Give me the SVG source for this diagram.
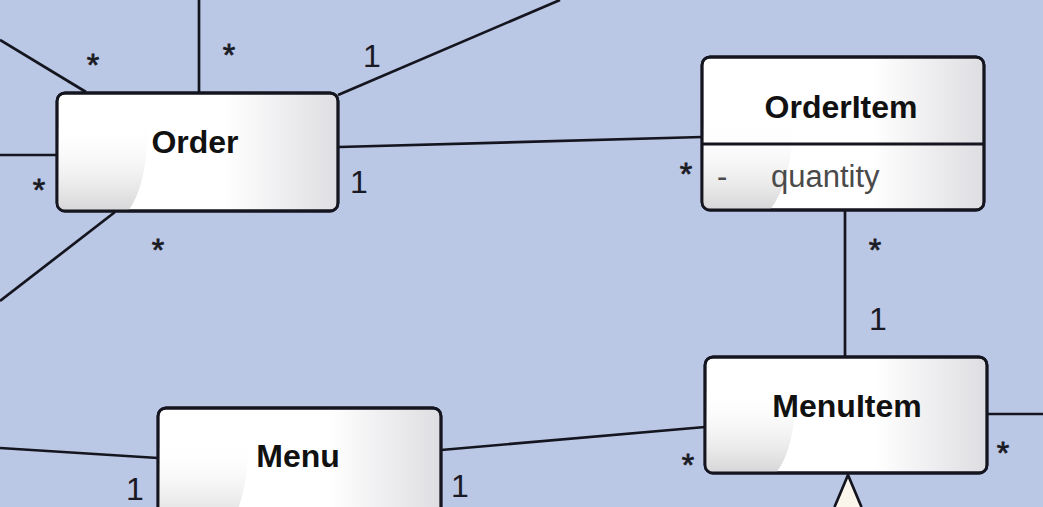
<svg xmlns="http://www.w3.org/2000/svg" width="1043" height="507" viewBox="0 0 1043 507">
<style>
.bg{fill:#bac7e5}
.box{fill:url(#hgrad);stroke:#15151f;stroke-width:2.8}
.edge{fill:none;stroke:#15151f;stroke-width:2.7}
.swoosh{fill:url(#vgrad)}
.title{font-family:"Liberation Sans",Arial,sans-serif;font-weight:bold;font-size:32px;fill:#111;text-anchor:middle}
.attr{font-family:"Liberation Sans",Arial,sans-serif;font-size:31px;fill:#4a4a4a}
.mult{font-family:"Liberation Sans",Arial,sans-serif;font-size:32px;fill:#1a1a24;text-anchor:middle}
.star{stroke:#1a1a24;stroke-width:0.8}
</style>
<defs>
<linearGradient id="hgrad" x1="0" y1="0" x2="1" y2="0">
<stop offset="0" stop-color="#ffffff"/>
<stop offset="0.6" stop-color="#ffffff"/>
<stop offset="1" stop-color="#dedee2"/>
</linearGradient>
<linearGradient id="vgrad" x1="0" y1="0" x2="0" y2="1">
<stop offset="0" stop-color="#ffffff" stop-opacity="0"/>
<stop offset="0.45" stop-color="#f2f2f2" stop-opacity="0.6"/>
<stop offset="1" stop-color="#d6d6d8"/>
</linearGradient>
<clipPath id="cOrder"><rect x="57" y="93" width="281" height="118" rx="8"/></clipPath>
<clipPath id="cOrderItem"><rect x="702" y="57" width="282" height="153" rx="8"/></clipPath>
<clipPath id="cMenuItem"><rect x="705" y="357" width="282" height="116" rx="8"/></clipPath>
<clipPath id="cMenu"><rect x="158" y="408" width="283" height="120" rx="8"/></clipPath>
</defs>
<rect class="bg" x="0" y="0" width="1043" height="507"/>
<g id="connectors">
<line class="edge" x1="0" y1="40" x2="86" y2="92"/>
<line class="edge" x1="199" y1="0" x2="199" y2="93"/>
<line class="edge" x1="338" y1="95" x2="560" y2="0"/>
<line class="edge" x1="0" y1="155" x2="57" y2="155"/>
<line class="edge" x1="115" y1="212" x2="0" y2="301"/>
<line class="edge" x1="339" y1="147" x2="702" y2="137"/>
<line class="edge" x1="845" y1="211" x2="845" y2="357"/>
<line class="edge" x1="987" y1="414" x2="1043" y2="414"/>
<line class="edge" x1="441" y1="450" x2="705" y2="427"/>
<line class="edge" x1="0" y1="448" x2="158" y2="458"/>
<path d="M834.5,507 L848,475 L861.5,507 Z" fill="#fbf6ec" stroke="none"/>
<path class="edge" d="M834.5,507 L848,475 L861.5,507"/>
</g>
<g id="Order">
<rect class="box" x="57" y="93" width="281" height="118" rx="8"/>
<path class="swoosh" clip-path="url(#cOrder)" d="M57,120 L148,120 Q148,185 128,211 L57,211 Z"/>
<rect x="57" y="93" width="281" height="118" rx="8" fill="none" stroke="#15151f" stroke-width="2.8"/>
<text class="title" x="195" y="153">Order</text>
</g>
<g id="OrderItem">
<rect class="box" x="702" y="57" width="282" height="153" rx="8"/>
<path class="swoosh" clip-path="url(#cOrderItem)" d="M702,120 L793,120 Q793,180 770,210 L702,210 Z"/>
<rect x="702" y="57" width="282" height="153" rx="8" fill="none" stroke="#15151f" stroke-width="2.8"/>
<line x1="702" y1="144" x2="984" y2="144" stroke="#15151f" stroke-width="2.8"/>
<text class="title" x="841" y="118">OrderItem</text>
<text class="attr" x="717" y="187">-</text>
<text class="attr" x="771" y="187">quantity</text>
</g>
<g id="MenuItem">
<rect class="box" x="705" y="357" width="282" height="116" rx="8"/>
<path class="swoosh" clip-path="url(#cMenuItem)" d="M705,385 L796,385 Q796,448 776,473 L705,473 Z"/>
<rect x="705" y="357" width="282" height="116" rx="8" fill="none" stroke="#15151f" stroke-width="2.8"/>
<text class="title" x="847" y="417">MenuItem</text>
</g>
<g id="Menu">
<rect class="box" x="158" y="408" width="283" height="120" rx="8"/>
<path class="swoosh" clip-path="url(#cMenu)" d="M158,440 L248,440 Q248,500 228,528 L158,528 Z"/>
<rect x="158" y="408" width="283" height="120" rx="8" fill="none" stroke="#15151f" stroke-width="2.8"/>
<text class="title" x="298" y="467">Menu</text>
</g>
<g id="labels">
<text class="mult star" x="93" y="76">*</text>
<text class="mult star" x="229" y="66">*</text>
<text class="mult" x="372" y="67">1</text>
<text class="mult star" x="39" y="201">*</text>
<text class="mult" x="359" y="193">1</text>
<text class="mult star" x="158" y="261">*</text>
<text class="mult star" x="686" y="185">*</text>
<text class="mult star" x="875" y="261">*</text>
<text class="mult" x="878" y="330">1</text>
<text class="mult star" x="688" y="476">*</text>
<text class="mult star" x="1003" y="464">*</text>
<text class="mult" x="135" y="500">1</text>
<text class="mult" x="460" y="497">1</text>
</g>
</svg>
